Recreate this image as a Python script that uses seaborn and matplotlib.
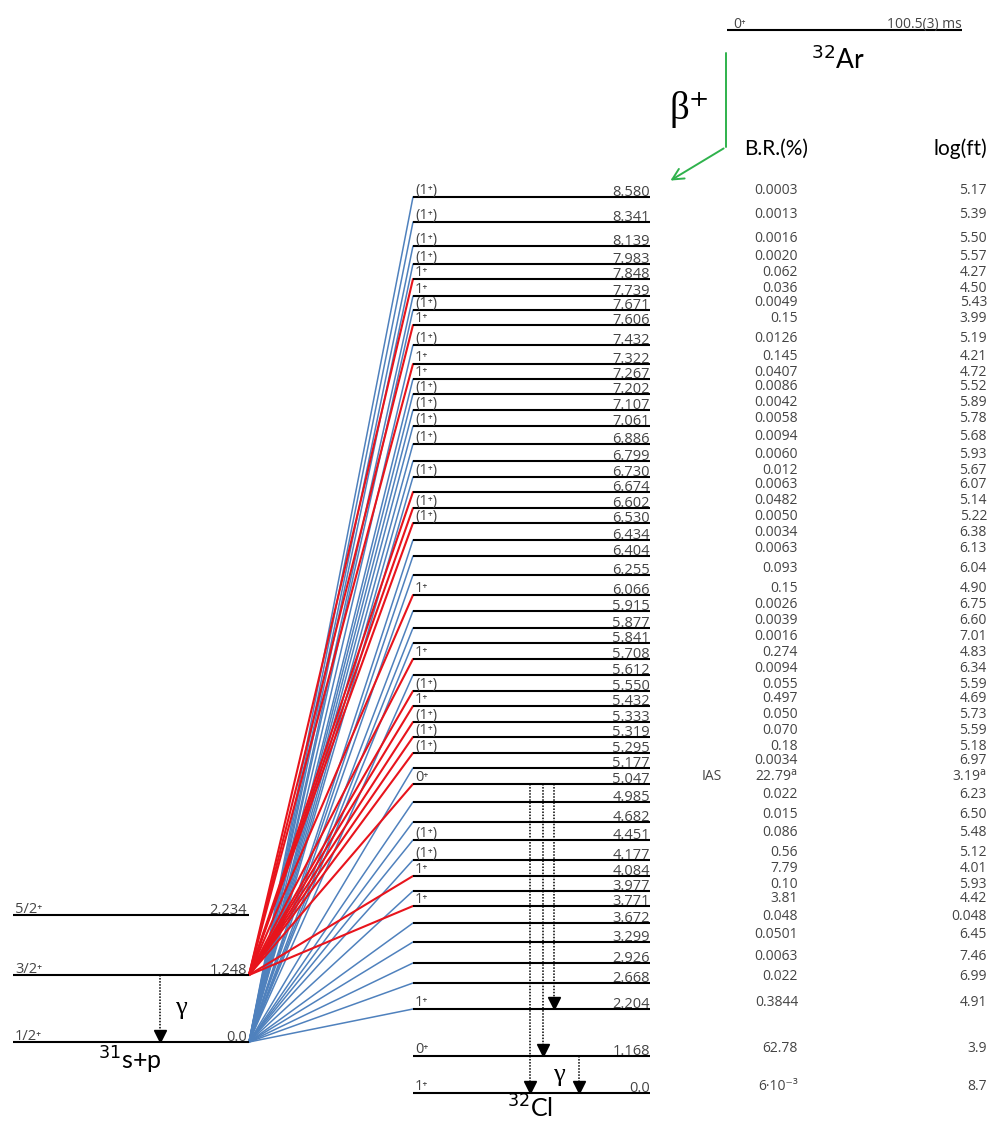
#level scheme of the 32Ar beta decay through 32Cl into 31S+p
import numpy as np
import pandas as pd
import matplotlib
matplotlib.use("Agg")
import matplotlib.pyplot as plt
import seaborn as sns

# 32Cl levels, top to bottom
cl_energy = ["8.580", "8.341", "8.139", "7.983", "7.848", "7.739", "7.671", "7.606", "7.432", "7.322",
             "7.267", "7.202", "7.107", "7.061", "6.886", "6.799", "6.730", "6.674", "6.602", "6.530",
             "6.434", "6.404", "6.255", "6.066", "5.915", "5.877", "5.841", "5.708", "5.612", "5.550",
             "5.432", "5.333", "5.319", "5.295", "5.177", "5.047", "4.985", "4.682", "4.451", "4.177",
             "4.084", "3.977", "3.771", "3.672", "3.299", "2.926", "2.668", "2.204", "1.168", "0.0"]
cl_spin = ["(1⁺)", "(1⁺)", "(1⁺)", "(1⁺)", "1⁺", "1⁺", "(1⁺)", "1⁺", "(1⁺)", "1⁺",
           "1⁺", "(1⁺)", "(1⁺)", "(1⁺)", "(1⁺)", "", "(1⁺)", "", "(1⁺)", "(1⁺)",
           "", "", "", "1⁺", "", "", "", "1⁺", "", "(1⁺)",
           "1⁺", "(1⁺)", "(1⁺)", "(1⁺)", "", "0⁺", "", "", "(1⁺)", "(1⁺)",
           "1⁺", "", "1⁺", "", "", "", "", "1⁺", "0⁺", "1⁺"]
branching = ["0.0003", "0.0013", "0.0016", "0.0020", "0.062", "0.036", "0.0049", "0.15", "0.0126", "0.145",
             "0.0407", "0.0086", "0.0042", "0.0058", "0.0094", "0.0060", "0.012", "0.0063", "0.0482", "0.0050",
             "0.0034", "0.0063", "0.093", "0.15", "0.0026", "0.0039", "0.0016", "0.274", "0.0094", "0.055",
             "0.497", "0.050", "0.070", "0.18", "0.0034", "22.79$^{\\rm a}$", "0.022", "0.015", "0.086", "0.56",
             "7.79", "0.10", "3.81", "0.048", "0.0501", "0.0063", "0.022", "0.3844", "62.78", "6·10⁻³"]
log_ft = ["5.17", "5.39", "5.50", "5.57", "4.27", "4.50", "5.43", "3.99", "5.19", "4.21",
          "4.72", "5.52", "5.89", "5.78", "5.68", "5.93", "5.67", "6.07", "5.14", "5.22",
          "6.38", "6.13", "6.04", "4.90", "6.75", "6.60", "7.01", "4.83", "6.34", "5.59",
          "4.69", "5.73", "5.59", "5.18", "6.97", "3.19$^{\\rm a}$", "6.23", "6.50", "5.48", "5.12",
          "4.01", "5.93", "4.42", "0.048", "6.45", "7.46", "6.99", "4.91", "3.9", "8.7"]
# levels whose proton line ends on the 1.248 state of 31S (all others feed the ground state)
to_excited = ["7.848", "7.606", "7.322", "6.674", "6.602", "6.530", "6.066", "5.708", "5.550", "5.432",
              "5.333", "5.319", "5.295", "5.047", "4.084", "3.771"]
no_proton = ["1.168", "0.0"]
# gamma transitions inside 32Cl (from, to)
cl_gammas = [("5.047", "0.0"), ("5.047", "1.168"), ("5.047", "2.204"), ("1.168", "0.0")]

# 31S levels
s_energy = ["2.234", "1.248", "0.0"]
s_spin = ["5/2⁺", "3/2⁺", "1/2⁺"]

# layout (pixel rows, the scheme is not drawn to scale)
cl_row = [197, 222, 246, 264, 279, 296, 310, 325, 345, 364,
          379, 394, 410, 426, 444, 461, 477, 492, 508, 523,
          540, 556, 575, 595, 611, 628, 643, 659, 675, 691,
          706, 722, 737, 753, 768, 784, 802, 822, 840, 860,
          876, 891, 906, 923, 942, 963, 983, 1009, 1056, 1093]
s_row = [915, 975, 1042]
gamma_x = [530, 543, 554, 579]
CL_X0, CL_X1 = 413, 650
S_X0, S_X1 = 13, 249

sns.set_style("white")
plt.rcParams['font.family'] = ['Open Sans', 'DejaVu Sans']
serif = ["Liberation Serif", "DejaVu Serif"]
txt = "#444444"

fig = plt.figure(figsize=(9.94, 11.21), dpi=100)
ax = fig.add_axes([0, 0, 1, 1])

row_of = dict(zip(cl_energy, cl_row))
s_row_of = dict(zip(s_energy, s_row))

# proton lines (fan) drawn with seaborn
segs = []
for e, y in zip(cl_energy, cl_row):
    if e in no_proton:
        continue
    feed = "1.248" if e in to_excited else "0.0"
    segs.append({"level": e, "feed": feed, "x": S_X1, "y": s_row_of[feed]})
    segs.append({"level": e, "feed": feed, "x": CL_X0, "y": y})
fan = pd.DataFrame(segs)
sns.lineplot(data=fan[fan.feed == "0.0"], x="x", y="y", units="level", estimator=None,
             color="#4f81bd", lw=1.1, sort=False, ax=ax)
sns.lineplot(data=fan[fan.feed == "1.248"], x="x", y="y", units="level", estimator=None,
             color="#e8141c", lw=1.5, sort=False, ax=ax)
ax.set_xlim(0, 994)
ax.set_ylim(1121, 0)
ax.axis("off")

# 32Cl levels
ax.hlines(cl_row, CL_X0, CL_X1, color="black", lw=1.5)
for e, s, y, br, lf in zip(cl_energy, cl_spin, cl_row, branching, log_ft):
    ax.text(CL_X1, y - 1, e, ha="right", va="baseline", fontsize=10.5, color=txt)
    if s:
        ax.text(CL_X0 + 2, y - 3, s, ha="left", va="baseline", fontsize=10.5, color=txt)
    ax.text(798, y - 7, br, ha="right", va="center", fontsize=10, color=txt)
    ax.text(987, y - 7, lf, ha="right", va="center", fontsize=10, color=txt)
ax.text(712, row_of["5.047"] - 7, "IAS", ha="center", va="center", fontsize=10, color=txt)

# 31S levels
ax.hlines(s_row, S_X0, S_X1, color="black", lw=1.5)
for e, s, y in zip(s_energy, s_spin, s_row):
    ax.text(S_X1 - 2, y - 1, e, ha="right", va="baseline", fontsize=10.5, color=txt)
    ax.text(S_X0 + 2, y - 2, s, ha="left", va="baseline", fontsize=10.5, color=txt)


def gamma_arrow(x, y0, y1):
    ax.plot([x, x], [y0, y1 - 10], ls=(0, (1, 1)), color="black", lw=1.1)
    ax.plot(x, y1 - 6, marker="v", ms=9, color="black")


gamma_arrow(160, s_row_of["1.248"], s_row_of["0.0"])
ax.text(181, 1008, "γ", ha="center", va="center", fontsize=19, family=serif, color="black")
for (a, b), x in zip(cl_gammas, gamma_x):
    gamma_arrow(x, row_of[a], row_of[b])
ax.text(559, 1075, "γ", ha="center", va="center", fontsize=19, family=serif, color="black")

ax.text(130, 1060, "$^{31}$s+p", ha="center", va="center", fontsize=18, family="Lato", color="black")
ax.text(530, 1108, "$^{32}$Cl", ha="center", va="center", fontsize=18, family="Lato", color="black")

# 32Ar parent
ax.hlines(30, 727, 962, color="black", lw=1.5)
ax.text(733, 28, "0⁺", ha="left", va="baseline", fontsize=10, color=txt)
ax.text(962, 28, "100.5(3) ms", ha="right", va="baseline", fontsize=10, color=txt)
ax.text(838, 60, "$^{32}$Ar", ha="center", va="center", fontsize=19, family="Lato", color="black")

# beta+ arrow
green = "#2fb24c"
ax.plot([726, 726], [53, 147], color=green, lw=1.4)
ax.annotate("", xy=(668, 182), xytext=(726, 147),
            arrowprops=dict(arrowstyle="->", color=green, lw=1.4, mutation_scale=20))
ax.text(690, 110, "β⁺", ha="center", va="center", fontsize=28, family=serif, color="black")

ax.text(776, 149, "B.R.(%)", ha="center", va="center", fontsize=15, family="Lato", color="black")
ax.text(960, 149, "log(ft)", ha="center", va="center", fontsize=15, family="Lato", color="black")

plt.savefig("out.png", dpi=100)
